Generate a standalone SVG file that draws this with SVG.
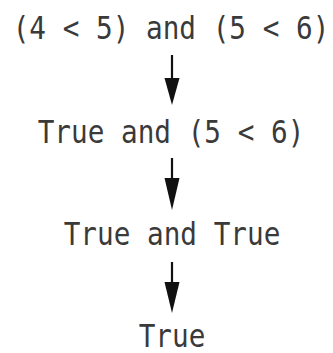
<svg xmlns="http://www.w3.org/2000/svg" width="333" height="353" viewBox="0 0 333 353">
<style>
text{font-family:"DejaVu Sans Mono","Liberation Mono",monospace;font-size:27.7px;fill:#3a3a3a;text-anchor:middle}
.c{stroke:#111;stroke-width:2.2;fill:none}
.h{fill:#111}
</style>
<rect width="333" height="353" fill="#fff"/>
<g id="n1"><text transform="translate(171,39) scale(1,1.15)">(4 &lt; 5) and (5 &lt; 6)</text></g>
<g id="n2"><text transform="translate(171,143) scale(1,1.15)">True and (5 &lt; 6)</text></g>
<g id="n3"><text transform="translate(172,245) scale(1,1.15)">True and True</text></g>
<g id="n4"><text transform="translate(172,347) scale(1,1.15)">True</text></g>
<g id="connectors">
<line class="c" x1="172" y1="55" x2="172" y2="80"/>
<polygon class="h" points="164.5,78 179.5,78 172,105"/>
<line class="c" x1="172" y1="158" x2="172" y2="180"/>
<polygon class="h" points="164.5,178 179.5,178 172,210"/>
<line class="c" x1="172" y1="262" x2="172" y2="284"/>
<polygon class="h" points="164.5,282 179.5,282 172,313"/>
</g>
</svg>
